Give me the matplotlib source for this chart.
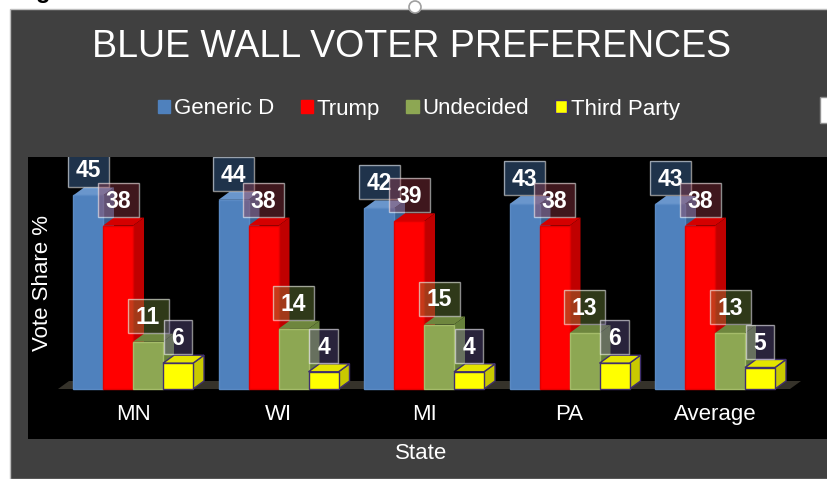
import numpy as np
import matplotlib.pyplot as plt
from matplotlib.patches import Rectangle, Polygon, Patch, Ellipse

plt.rcParams['font.family'] = ['Liberation Sans', 'DejaVu Sans']

## Data
states = ["MN", "WI", "MI", "PA", "Average"]
series_names = ["Generic D", "Trump", "Undecided", "Third Party"]
generic_d = [45, 44, 42, 43, 43]
trump = [38, 38, 39, 38, 38]
undecided = [11, 14, 15, 13, 13]
third_party = [6, 4, 4, 6, 5]
values = [generic_d, trump, undecided, third_party]

## Styles
front_col = ["#4F81BD", "#FF0000", "#8DA753", "#FFFF00"]
side_col = ["#3B6190", "#C00000", "#66803A", "#C9C900"]
top_col = ["#6A96CC", "#D40000", "#6E863E", "#E4E400"]
edge_col = ["#5A8AC4", "#E00000", "#A5BC6A", "#3F2F6E"]
lab_fill = ["#4F81BD", "#A03C4B", "#76913F", "#695896"]

W, H = 827, 479
fig = plt.figure(figsize=(W/100, H/100), dpi=100)
fig.patch.set_facecolor("white")

# dark chart panel
fig.add_artist(Rectangle((10/W, 0), 1, (H-9)/H, transform=fig.transFigure,
                         facecolor="#404040", edgecolor="#BDBDBD", lw=1, zorder=0))

# plot area (black)
ax = fig.add_axes([28/W, 1-439/H, (W-28)/W, (439-157)/H])
ax.set_facecolor("black")
for s in ax.spines.values():
    s.set_visible(False)

px_x = 1/145.5   # data units per pixel
px_y = 1/4.3
ax.set_xlim((28-133)*px_x, (W-133)*px_x)
ax.set_ylim((389-439)*px_y, (389-157)*px_y)
ax.set_yticks([])

w = 30*px_x
dx, dy = 11*px_x, 8*px_y
x = np.arange(len(states))

# floor
fl = x[0] - 2*w - 15*px_x
fr = x[-1] + 2*w + 15*px_x
ax.add_patch(Polygon([(fl, 0), (fr, 0), (fr+dx, dy), (fl+dx, dy)],
                     closed=True, facecolor="#35322A", edgecolor="none", zorder=1))

for j, vals in enumerate(values):
    xs = x + (j - 1.5)*w
    bars = ax.bar(xs, vals, width=w, color=front_col[j], edgecolor=edge_col[j],
                  linewidth=1.0, zorder=2.5+j)
    for b, v in zip(bars, vals):
        x0, x1 = b.get_x(), b.get_x() + b.get_width()
        ax.add_patch(Polygon([(x1, 0), (x1+dx, dy), (x1+dx, v+dy), (x1, v)],
                             closed=True, facecolor=side_col[j], edgecolor=edge_col[j] if j == 3 else "none",
                             lw=1.0, zorder=2+j))
        ax.add_patch(Polygon([(x0, v), (x1, v), (x1+dx, v+dy), (x0+dx, v+dy)],
                             closed=True, facecolor=top_col[j], edgecolor=edge_col[j] if j == 3 else "none",
                             lw=1.0, zorder=2+j))
        # data label
        s = str(v)
        bw = (12.5*len(s) + 16)*px_x
        bh = 34*px_y
        cx = x0 + w/2
        by = v + dy + 1*px_y
        ax.add_patch(Rectangle((cx - bw/2, by), bw, bh, facecolor=lab_fill[j], alpha=0.4,
                               edgecolor="none", zorder=10+j))
        ax.add_patch(Rectangle((cx - bw/2, by), bw, bh, facecolor="none",
                               edgecolor=(1, 1, 1, 0.55), lw=1.0, zorder=10.1+j))
        ax.text(cx, by + bh/2 - 1.5*px_y, s, ha="center", va="center", color="white",
                fontsize=16.5, fontweight="bold", zorder=10.2+j)

ax.set_xticks(x, states)
ax.tick_params(axis="x", length=0, pad=-25, labelcolor="white", labelsize=16)
ax.set_xlabel("State", color="white", fontsize=16)
ax.xaxis.set_label_coords((421-28)/(W-28), -0.015)
ax.set_ylabel("Vote Share %", color="white", fontsize=16)
ax.yaxis.set_label_coords((43-28)/(W-28), (439-283)/(439-157))
ax.yaxis.label.set_va("center")

# title and legend
fig.text(412/W, 1-47/H, "BLUE WALL VOTER PREFERENCES", ha="center", va="center",
         color="white", fontsize=27)
handles = [Patch(facecolor=front_col[j], edgecolor=edge_col[j] if j == 3 else front_col[j])
           for j in range(4)]
fig.legend(handles, series_names, loc="center", bbox_to_anchor=(419/W, 1-109/H), ncol=4,
           frameon=False, fontsize=16, labelcolor="white", handlelength=0.55,
           handleheight=0.55, handletextpad=0.15, columnspacing=1.2)

# stray bits around the chart
fig.add_artist(Rectangle((820/W, 1-123/H), 12/W, 26/H, transform=fig.transFigure,
                         facecolor="white", edgecolor="#909090", lw=1, zorder=5))
fig.add_artist(Ellipse((415/W, 1-7/H), 12/W, 12/H, transform=fig.transFigure,
                       facecolor="white", edgecolor="#A0A0A0", lw=1.2, zorder=5))
fig.text(36/W, 1+2/H, "g", ha="left", va="baseline", color="black", fontsize=17,
         fontweight="bold")

fig.savefig("out.png", dpi=100, facecolor=fig.get_facecolor())
